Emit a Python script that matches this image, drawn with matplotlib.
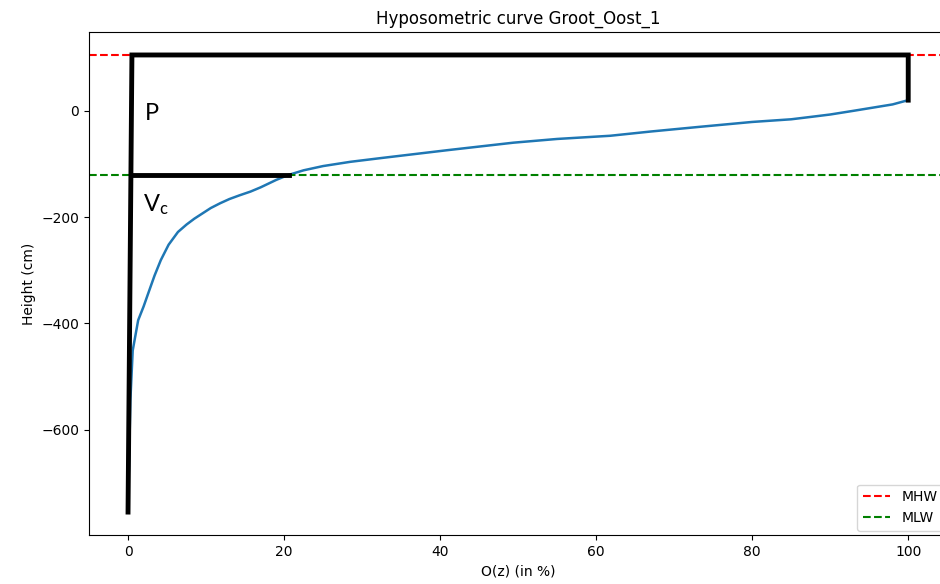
import numpy as np
import matplotlib.pyplot as plt

# courbe hypsometrique
oz = [0, 0.3, 0.6, 1.3, 2.0, 2.6, 3.4, 4.2, 5.2, 6.4, 7.5, 8.5, 10.6, 11.8, 13,
      14.3, 15.7, 17, 18, 19, 20.5, 22.5, 25, 28.5, 32.4, 41, 49.4, 55, 61.8, 67,
      73.4, 80, 85, 87.8, 90, 93, 95.5, 98, 100]
hauteur = [-750, -545, -451, -394, -368, -343, -310, -281, -252, -228, -214, -203,
           -183, -174, -166, -159, -152, -144, -137, -130, -121, -112, -104, -96,
           -89, -74, -60, -53, -47, -39, -30, -21, -16, -11, -7, 0, 6, 12, 20]

mhw = 105
mlw = -120

# traits noirs (P et Vc)
cadre_x = [0, 0.5, 100, 100]
cadre_y = [-755, mhw, mhw, 20]
vc_x = [0.4, 20.6]
vc_y = [mlw, mlw]

fig = plt.figure(figsize=(9.4, 5.84), dpi=100)
ax = fig.add_axes([0.0947, 0.084, 0.913, 0.861])

ax.plot(oz, hauteur, linewidth=1.8)
ax.axhline(mhw, color="red", linestyle="--", label="MHW")
ax.axhline(mlw, color="green", linestyle="--", label="MLW")
ax.plot(cadre_x, cadre_y, color="black", linewidth=3.5, solid_joinstyle="miter")
ax.plot(vc_x, vc_y, color="black", linewidth=3.5)

ax.text(2.2, -6, "P", fontsize=17, family=["Lato", "DejaVu Sans"], va="center")
ax.text(1.9, -177, r"$\mathregular{V_c}$", fontsize=17, family=["Lato", "DejaVu Sans"], va="center")

ax.set_title("Hyposometric curve Groot_Oost_1", fontsize=12)
ax.set_xlabel("O(z) (in %)")
ax.set_ylabel("Height (cm)")
ax.legend(loc="lower right", borderaxespad=0.3)

plt.savefig("out.png", dpi=100)
